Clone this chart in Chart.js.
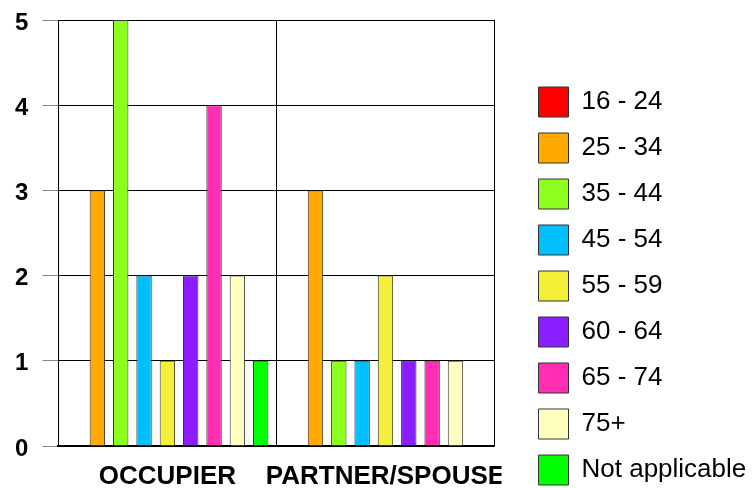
<!DOCTYPE html>
<html><head><meta charset="utf-8">
<script src="https://cdn.jsdelivr.net/npm/chart.js@4/dist/chart.umd.min.js"></script>
<style>html,body{margin:0;padding:0;background:#fff}#wrap{width:756px;height:488px;position:relative}</style>
</head><body><div id="wrap"><canvas id="c"></canvas></div>
<script>
const categories = ['OCCUPIER', 'PARTNER/SPOUSE'];
const ageGroups = ['16 - 24', '25 - 34', '35 - 44', '45 - 54', '55 - 59', '60 - 64', '65 - 74', '75+', 'Not applicable'];
const occupier = [0, 3, 5, 2, 1, 2, 4, 2, 1];
const partnerSpouse = [0, 3, 1, 1, 2, 1, 1, 1, 0];
const yTicks = [0, 1, 2, 3, 4, 5];
const colors = ['#FF0000', '#FFAA00', '#8CFF1E', '#00BFFF', '#F4F03A', '#8A1EFF', '#FF2EB2', '#FFFFC0', '#00FF00'];

const FONT = "'Liberation Sans', Arial, sans-serif";
Chart.defaults.font.family = FONT;
Chart.defaults.color = '#000';

const datasets = ageGroups.map((g, i) => ({
  label: g,
  data: [occupier[i], partnerSpouse[i]],
  backgroundColor: colors[i],
  borderColor: '#333',
  borderWidth: 1
}));

const legendShift = {
  id: 'legendShift',
  afterLayout(chart) {
    const lg = chart.legend;
    const dx = chart.chartArea.right + 28 - lg.left;
    lg.left += dx;
    lg.right = chart.width;
    lg.width = lg.right - lg.left;
    lg.top += 32; lg.bottom += 32;
    const xs = chart.scales.x;
    if (!xs._clipPatched) {
      const orig = xs.drawLabels.bind(xs);
      xs.drawLabels = function (area) {
        const ctx = this.ctx;
        ctx.save();
        ctx.beginPath();
        ctx.rect(0, 0, this.chart.chartArea.right + 7, this.chart.height);
        ctx.clip();
        orig(area);
        ctx.restore();
      };
      xs._clipPatched = true;
    }
  }
};

new Chart(document.getElementById('c'), {
  type: 'bar',
  data: { labels: categories, datasets },
  plugins: [legendShift],
  options: {
    responsive: true,
    maintainAspectRatio: false,
    animation: false,
    layout: { padding: { left: 1, top: 0, right: 97, bottom: -20 } },
    datasets: { bar: { categoryPercentage: 0.963, barPercentage: 0.66 } },
    plugins: {
      legend: {
        position: 'right',
        align: 'center',
        labels: { boxWidth: 30, boxHeight: 30, padding: 16, color: '#000', font: { family: FONT, size: 26 } }
      },
      tooltip: { enabled: false }
    },
    scales: {
      x: {
        offset: true,
        grid: { offset: true, color: '#000', drawTicks: false, lineWidth: 1 },
        border: { color: '#000', width: 2 },
        ticks: { maxRotation: 0, minRotation: 0, autoSkip: false, padding: 18, color: '#000',
                 font: { family: FONT, size: 26, weight: 'bold', lineHeight: 1 } }
      },
      y: {
        min: 0, max: 5,
        afterBuildTicks(scale) { scale.ticks = yTicks.map(v => ({ value: v })); },
        ticks: { padding: 14, labelOffset: 3, color: '#000', font: { family: FONT, size: 24, weight: 'bold', lineHeight: 0.5 } },
        grid: { color: '#000', tickColor: '#888', tickLength: 16, lineWidth: 1 },
        border: { color: '#000', width: 1 }
      }
    }
  }
});
</script>
</body></html>
